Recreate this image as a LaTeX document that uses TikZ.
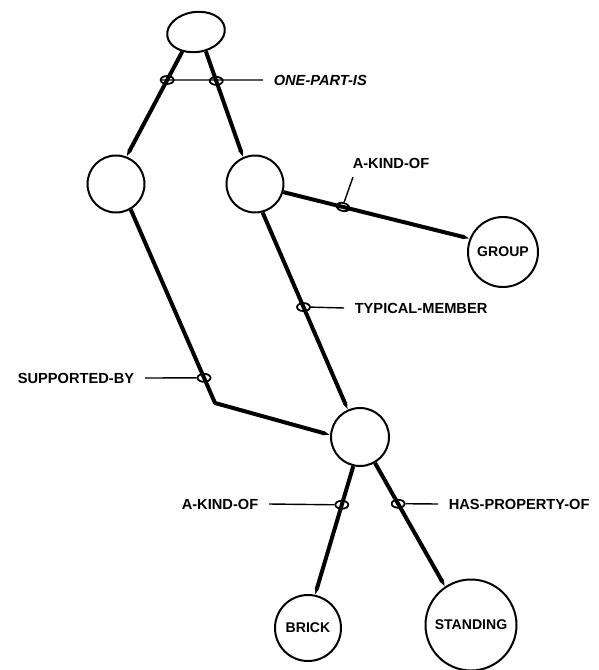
\documentclass[tikz,border=0pt]{standalone}
\usepackage{fontspec}
\setmainfont{Liberation Sans}
\usetikzlibrary{arrows.meta,shapes.geometric}
\begin{document}
\begin{tikzpicture}[x=0.03cm,y=-0.03cm,line join=round,
  frame/.style={circle,draw,line width=1.7pt,inner sep=0pt,font=\bfseries\fontsize{12}{14}\selectfont},
  link/.style={line width=3.4pt,-{Triangle[length=6pt,width=3.4pt]}},
  loopmark/.style={ellipse,draw,line width=1.5pt,minimum width=0.39cm,minimum height=0.24cm,inner sep=0pt},
  leader/.style={line width=1.2pt},
  tag/.style={inner xsep=9pt,inner ysep=2pt,font=\bfseries\fontsize{12.5}{14}\selectfont}]
%\draw[thin,dotted,step=50] (0,0) grid (599,670);
\useasboundingbox (0,0) rectangle (599,670);
\node[ellipse,draw,line width=1.7pt,rotate=8,minimum width=1.74cm,minimum height=1.2cm] (top) at (196,32) {};
\node[frame,minimum size=1.71cm] (left) at (116,184) {};
\node[frame,minimum size=1.71cm] (mid) at (255,184) {};
\node[frame,minimum size=2.1cm] (group) at (503,252) {GROUP};
\node[frame,minimum size=1.74cm] (center) at (360,437) {};
\node[frame,minimum size=1.98cm] (brick) at (308,628) {BRICK};
\node[frame,minimum size=2.73cm] (standing) at (471,625) {STANDING};
\coordinate (bend) at (215,403);
\coordinate (kindend) at (353,177);
% links
\draw[link] (top.227) -- node[loopmark,pos=0.27] (lp1) {} (left.69);
\draw[link] (top.289) -- node[loopmark,pos=0.28] (lp2) {} (mid.114);
\draw[link] (mid.-16) -- node[loopmark,pos=0.32,rotate=-14] (lk1) {} (group.158);
\draw[link] (mid.-75) -- node[loopmark,pos=0.48] (lt) {} (center.114);
\draw[link] (left.-60) -- node[loopmark,pos=0.87] (ls) {} (bend) -- (center.176);
\draw[link] (center.-103) -- node[loopmark,pos=0.30] (lk2) {} (brick.78);
\draw[link] (center.-60) -- node[loopmark,pos=0.33] (lh) {} (standing.124);
% labels
\node[tag,anchor=west,font=\bfseries\itshape\fontsize{12.5}{14}\selectfont] (onepart) at (263,80) {ONE-PART-IS};
\node[tag] (akind1) at (391,163) {A-KIND-OF};
\node[tag,anchor=west] (typical) at (344,308) {TYPICAL-MEMBER};
\node[tag,anchor=east] (supported) at (145,378) {SUPPORTED-BY};
\node[tag,anchor=east] (akind2) at (269,504) {A-KIND-OF};
\node[tag,anchor=west] (hasprop) at (438,504) {HAS-PROPERTY-OF};
\draw[leader] (lp1.west) -- (onepart.west);
\draw[leader] (lk1.north) -- (kindend);
\draw[leader] (lt.east) -- (typical.west);
\draw[leader] (ls.west) -- (supported.east);
\draw[leader] (lk2.west) -- (akind2.east);
\draw[leader] (lh.east) -- (hasprop.west);
\end{tikzpicture}
\end{document}
